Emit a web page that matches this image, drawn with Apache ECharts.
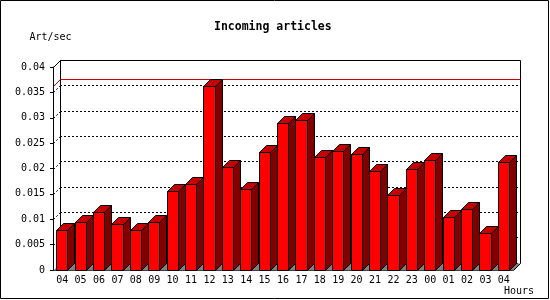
<!DOCTYPE html>
<html>
<head>
<meta charset="utf-8">
<style>
html,body{margin:0;padding:0;background:#fff;}
#chart{width:550px;height:300px;}
</style>
<script src="https://cdn.jsdelivr.net/npm/echarts@6.0.0/dist/echarts.min.js"></script>
</head>
<body>
<div id="chart"></div>
<script>
const hours = ['04','05','06','07','08','09','10','11','12','13','14','15','16','17','18','19','20','21','22','23','00','01','02','03','04'];
const artPerSec = [0.0078,0.0095,0.0114,0.0090,0.0078,0.0095,0.0155,0.0169,0.0362,0.0202,0.0159,0.0233,0.0289,0.0295,0.0222,0.0235,0.0228,0.0195,0.0147,0.0200,0.0216,0.0104,0.0120,0.0072,0.0212];
const yTickLabels = ['0','0.005','0.01','0.015','0.02','0.025','0.03','0.035','0.04'];
const yMax = 0.04, yStep = 0.005;
const titleText = 'Incoming articles';
const yName = 'Art/sec';
const xName = 'Hours';

const DX = 7, DY = -7;            // depth offset of the 3D effect
const FRONT_OFF = 3.2, FRONT_W = 11.2;
const FONT = '"DejaVu Sans Mono", "Liberation Mono", monospace';
const px = v => Math.round(v) + 0.5;

const chart = echarts.init(document.getElementById('chart'), null, {renderer: 'canvas'});

function renderBar(params, api) {
  const i = api.value(0), v = api.value(1);
  const base = api.coord([i, 0]);
  const top = api.coord([i, v]);
  const bw = api.size([1, 0])[0];
  const x0 = px(base[0] - bw / 2 + FRONT_OFF);
  const x1 = px(base[0] - bw / 2 + FRONT_OFF + FRONT_W);
  const yb = px(base[1]), yt = px(top[1]);
  const stroke = {stroke: '#000', lineWidth: 1};
  return {
    type: 'group',
    children: [
      {type: 'polygon', shape: {points: [[x1, yt], [x1 + DX, yt + DY], [x1 + DX, yb + DY], [x1, yb]]},
       style: Object.assign({fill: '#800000'}, stroke)},
      {type: 'polygon', shape: {points: [[x0, yt], [x1, yt], [x1 + DX, yt + DY], [x0 + DX, yt + DY]]},
       style: Object.assign({fill: '#c40000'}, stroke)},
      {type: 'rect', shape: {x: x0, y: yt, width: x1 - x0, height: yb - yt},
       style: Object.assign({fill: '#ff0000'}, stroke)}
    ]
  };
}

function renderFrame(params, api) {
  const cs = params.coordSys;
  const L = px(cs.x), T = px(cs.y), R = px(cs.x + cs.width), B = px(cs.y + cs.height);
  const ch = [];
  // floor
  ch.push({type: 'polygon', shape: {points: [[L, B], [R, B], [R + DX, B + DY], [L + DX, B + DY]]},
           style: {fill: '#808080', stroke: null}});
  ch.push({type: 'line', shape: {x1: R, y1: B, x2: R + DX, y2: B + DY}, style: {stroke: '#000', lineWidth: 1}});
  // back wall frame
  ch.push({type: 'polyline', shape: {points: [[L + DX, B + DY], [L + DX, T + DY], [R + DX, T + DY], [R + DX, B + DY]]},
           style: {stroke: '#000', lineWidth: 1, fill: null}});
  ch.push({type: 'line', shape: {x1: L, y1: T, x2: L + DX, y2: T + DY}, style: {stroke: '#000', lineWidth: 1}});
  // left connectors of grid lines
  for (let k = 1; k < yTickLabels.length - 1; k++) {
    const y = px(api.coord([0, k * yStep])[1]);
    ch.push({type: 'line', shape: {x1: L, y1: y, x2: L + DX, y2: y + DY},
             style: {stroke: '#000', lineWidth: 1, lineDash: [2, 2]}});
  }
  // maximum line
  const m = Math.max.apply(null, artPerSec);
  const ym = px(api.coord([0, m])[1]);
  ch.push({type: 'polyline', shape: {points: [[L, ym], [L + DX, ym + DY], [R + DX, ym + DY]]},
           style: {stroke: '#d00000', lineWidth: 1, fill: null}});
  return {type: 'group', children: ch};
}

const option = {
  animation: false,
  backgroundColor: '#fff',
  title: {
    text: titleText, left: 214, top: 20, padding: 0,
    textStyle: {fontFamily: FONT, fontWeight: 'bold', fontSize: 11.5, color: '#000', lineHeight: 14}
  },
  grid: [
    {left: 53, top: 67, width: 460, height: 203, show: false},
    {left: 60, top: 60, width: 460, height: 203, show: false}
  ],
  xAxis: [
    {
      type: 'category', gridIndex: 0, data: hours, boundaryGap: true,
      axisLine: {lineStyle: {color: '#000', width: 1}},
      axisTick: {interval: 0, length: 3, lineStyle: {color: '#000'}},
      axisLabel: {interval: 0, margin: 5, color: '#000', fontFamily: FONT, fontSize: 10},
      splitLine: {show: false}
    },
    {
      type: 'category', gridIndex: 1, data: hours, boundaryGap: true,
      axisLine: {show: false}, axisTick: {show: false}, axisLabel: {show: false}, splitLine: {show: false}
    }
  ],
  yAxis: [
    {
      type: 'value', gridIndex: 0, min: 0, max: yMax, interval: yStep,
      name: yName, nameLocation: 'end', nameGap: 25,
      nameTextStyle: {color: '#000', fontFamily: FONT, fontSize: 10, padding: [0, 5, 0, 0]},
      axisLine: {show: true, lineStyle: {color: '#000', width: 1}},
      axisTick: {show: true, length: 3, lineStyle: {color: '#000'}},
      axisLabel: {margin: 8, color: '#000', fontFamily: FONT, fontSize: 10,
                  formatter: v => yTickLabels[Math.round(v / yStep)]},
      splitLine: {show: false}
    },
    {
      type: 'value', gridIndex: 1, min: 0, max: yMax, interval: yStep,
      axisLine: {show: false}, axisTick: {show: false}, axisLabel: {show: false},
      splitLine: {show: true, lineStyle: {color: '#000', width: 1, type: [2, 2]}}
    }
  ],
  graphic: [
    {type: 'rect', shape: {x: 0.5, y: 0.5, width: 548, height: 298},
     style: {fill: null, stroke: '#000', lineWidth: 1}, z: 100},
    {type: 'text', left: 504, top: 286,
     style: {text: xName, fontFamily: FONT, fontSize: 10, fill: '#000'}}
  ],
  series: [
    {
      type: 'custom', name: 'frame', xAxisIndex: 0, yAxisIndex: 0, z: 2, silent: true,
      renderItem: renderFrame, data: [[0, 0]], clip: false
    },
    {
      type: 'custom', name: 'Incoming articles', xAxisIndex: 0, yAxisIndex: 0, z: 3,
      renderItem: renderBar, clip: false,
      encode: {x: 0, y: 1},
      data: artPerSec.map((v, i) => [i, v])
    }
  ]
};
chart.setOption(option);
</script>
</body>
</html>
